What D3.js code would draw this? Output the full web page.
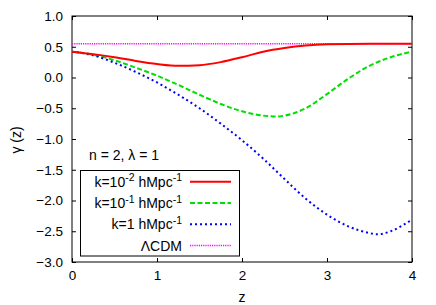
<!DOCTYPE html>
<meta charset="utf-8">
<title>gamma(z)</title>
<script src="https://d3js.org/d3.v7.min.js"></script>
<style>
  body { margin: 0; background: #fff; }
  text { font-family: "Liberation Sans", Arial, sans-serif; }
</style>
<body>
<div id="chart"></div>
<script>
// values
var zRed   = [0, 0.25, 0.5, 0.75, 1.0, 1.25, 1.5, 1.75, 2.0, 2.25, 2.5, 2.75, 3.0, 3.5, 4.0];
var gRed   = [0.42, 0.38, 0.33, 0.27, 0.22, 0.19, 0.20, 0.25, 0.33, 0.42, 0.48, 0.52, 0.54, 0.55, 0.55];
var zGreen = [0, 0.25, 0.5, 0.75, 1.0, 1.25, 1.5, 1.75, 2.0, 2.25, 2.4, 2.5, 2.75, 3.0, 3.25, 3.5, 3.75, 4.0];
var gGreen = [0.42, 0.37, 0.28, 0.16, 0.03, -0.12, -0.28, -0.43, -0.55, -0.62, -0.635, -0.62, -0.50, -0.27, -0.02, 0.19, 0.33, 0.42];
var zBlue  = [0, 0.25, 0.5, 0.75, 1.0, 1.25, 1.5, 1.75, 2.0, 2.25, 2.5, 2.75, 3.0, 3.25, 3.5, 3.6, 3.75, 4.0];
var gBlue  = [0.42, 0.36, 0.24, 0.09, -0.08, -0.28, -0.5, -0.75, -1.02, -1.32, -1.65, -1.97, -2.23, -2.42, -2.53, -2.55, -2.5, -2.31];
var zLcdm  = [0, 4];
var gLcdm  = [0.55, 0.55];
var xTicks = [0, 1, 2, 3, 4];
var yTicks = [1.0, 0.5, 0.0, -0.5, -1.0, -1.5, -2.0, -2.5, -3.0];

var W = 436, H = 305;
var margin = {top: 16, right: 24, bottom: 43, left: 72},
    width = W - margin.left - margin.right,
    height = H - margin.top - margin.bottom;

var svg = d3.select("#chart").append("svg")
    .attr("width", W).attr("height", H);
var g = svg.append("g")
    .attr("transform", "translate(" + margin.left + "," + margin.top + ")");

var x = d3.scaleLinear().domain([0, 4]).range([0, width]);
var y = d3.scaleLinear().domain([-3, 1]).range([height, 0]);

// axes, ticks point inward and are mirrored
g.append("g").attr("transform", "translate(0," + height + ")")
  .call(d3.axisBottom(x).tickValues(xTicks).tickSizeInner(-4).tickSizeOuter(0).tickPadding(8).tickFormat(d3.format("d")));
g.append("g")
  .call(d3.axisTop(x).tickValues(xTicks).tickSizeInner(-4).tickSizeOuter(0).tickFormat(""));
g.append("g")
  .call(d3.axisLeft(y).tickValues(yTicks).tickSizeInner(-4).tickSizeOuter(0).tickPadding(9).tickFormat(d3.format(".1f")));
g.append("g").attr("transform", "translate(" + width + ",0)")
  .call(d3.axisRight(y).tickValues(yTicks).tickSizeInner(-4).tickSizeOuter(0).tickFormat(""));
g.selectAll(".tick text").attr("font-size", "13.5px").attr("font-family", "Liberation Sans, Arial, sans-serif").attr("fill", "#000");
g.selectAll(".tick line").attr("stroke", "#000");
g.selectAll(".domain").remove();
g.append("rect").attr("width", width).attr("height", height)
  .attr("fill", "none").attr("stroke", "#000").attr("stroke-width", 1);

// curves
var series = [
  {z: zLcdm,  v: gLcdm,  color: "#ff00ff", w: 1.5, dash: "1.2,1"},
  {z: zGreen, v: gGreen, color: "#00e000", w: 2,   dash: "5,2.5"},
  {z: zBlue,  v: gBlue,  color: "#0000ff", w: 2,   dash: "2,3"},
  {z: zRed,   v: gRed,   color: "#ff0000", w: 2,   dash: null}
];
var line = d3.line().curve(d3.curveMonotoneX)
  .x(function(d) { return x(d[0]); })
  .y(function(d) { return y(d[1]); });
series.forEach(function(s) {
  g.append("path")
    .datum(d3.zip(s.z, s.v))
    .attr("fill", "none")
    .attr("stroke", s.color)
    .attr("stroke-width", s.w)
    .attr("stroke-dasharray", s.dash)
    .attr("d", line);
});

// annotation
svg.append("text").attr("x", 89).attr("y", 160).attr("font-size", "14px")
  .text("n = 2, \u03bb = 1");

// axis labels
svg.append("text").attr("x", 242).attr("y", 302).attr("font-size", "14px")
  .attr("text-anchor", "middle").text("z");
svg.append("text").attr("transform", "translate(21,140) rotate(-90)")
  .attr("font-size", "14px").attr("text-anchor", "middle").text("\u03b3 (z)");

// legend
var legend = svg.append("g");
legend.append("rect").attr("x", 80.5).attr("y", 170.5).attr("width", 159).attr("height", 85.5)
  .attr("fill", "#fff").attr("stroke", "#000");
var rows = [
  {parts: [["k=10", 0], ["-2", 1], [" hMpc", 0], ["-1", 1]], s: series[3]},
  {parts: [["k=10", 0], ["-1", 1], [" hMpc", 0], ["-1", 1]], s: series[1]},
  {parts: [["k=1 hMpc", 0], ["-1", 1]], s: series[2]},
  {parts: [["\u039bCDM", 0]], s: series[0]}
];
rows.forEach(function(r, i) {
  var yy = 181.7 + i * 21.3;
  var t = legend.append("text").attr("x", 182).attr("y", yy + 5).attr("font-size", "14px")
    .attr("text-anchor", "end");
  r.parts.forEach(function(p, j) {
    var ts = t.append("tspan").text(p[0]);
    if (p[1]) ts.attr("font-size", "10.5px").attr("dy", -5.5);
    else if (j > 0) ts.attr("dy", 5.5);
  });
  legend.append("line").attr("x1", 190).attr("x2", 231).attr("y1", yy).attr("y2", yy)
    .attr("stroke", r.s.color).attr("stroke-width", r.s.w).attr("stroke-dasharray", r.s.dash);
});
</script>
</body>
